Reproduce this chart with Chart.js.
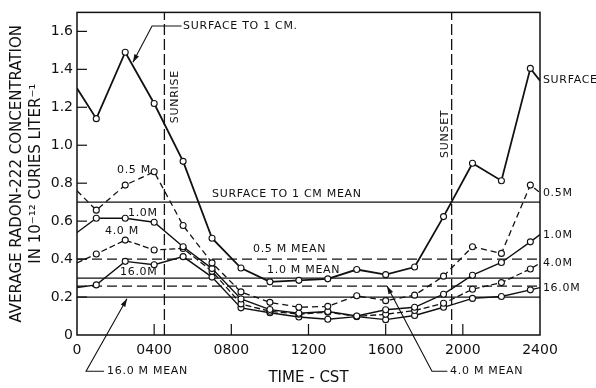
<!DOCTYPE html>
<html><head><meta charset="utf-8">
<script src="https://cdn.jsdelivr.net/npm/chart.js@4/dist/chart.umd.min.js"></script>
<style>html,body{margin:0;padding:0;background:#fff;}#wrap{width:596px;height:388px;}</style>
</head><body><div id="wrap"><canvas id="c" width="596" height="388"></canvas></div>
<script>
// ---- data (time in hours CST) ----
const times = [0, 1, 2.5, 4, 5.5, 7, 8.5, 10, 11.5, 13, 14.5, 16, 17.5, 19, 20.5, 22, 23.5, 24];
const surface = [1.30, 1.14, 1.49, 1.22, 0.915, 0.51, 0.353, 0.28, 0.288, 0.296, 0.345, 0.318, 0.358, 0.624, 0.905, 0.813, 1.405, 1.34];
const depth05 = [0.76, 0.658, 0.79, 0.86, 0.577, 0.38, 0.227, 0.172, 0.146, 0.151, 0.207, 0.181, 0.21, 0.31, 0.465, 0.43, 0.79, 0.75];
const depth10 = [0.54, 0.615, 0.615, 0.594, 0.465, 0.35, 0.19, 0.134, 0.115, 0.124, 0.10, 0.133, 0.146, 0.215, 0.315, 0.382, 0.491, 0.529];
const depth40 = [0.38, 0.427, 0.50, 0.448, 0.456, 0.336, 0.164, 0.125, 0.11, 0.12, 0.098, 0.109, 0.129, 0.167, 0.241, 0.276, 0.348, 0.379];
const depth160 = [0.25, 0.264, 0.388, 0.37, 0.413, 0.305, 0.143, 0.117, 0.095, 0.083, 0.097, 0.081, 0.103, 0.146, 0.193, 0.203, 0.238, 0.25];
const meanNames = ['SURFACE TO 1 CM MEAN', '0.5 M MEAN', '1.0 M MEAN', '4.0 M MEAN', '16.0 M MEAN'];
const meanValues = [0.70, 0.40, 0.30, 0.258, 0.20];
const sunrise = 4.53;
const sunset = 19.42;
const xTicks = [0, 4, 8, 12, 16, 20, 24];
const xTickLabels = ['0', '0400', '0800', '1200', '1600', '2000', '2400'];
const yTicks = [0, 0.2, 0.4, 0.6, 0.8, 1.0, 1.2, 1.4, 1.6];
const yTickLabels = ['0', '0.2', '0.4', '0.6', '0.8', '1.0', '1.2', '1.4', '1.6'];

const ink = '#111';
const pts = arr => times.map((t, i) => ({x: t, y: arr[i]}));
const endless = c => (c.dataIndex === 0 || c.dataIndex === times.length - 1) ? 0 : 3;

function series(label, arr, dash, width) {
  return {label, data: pts(arr), borderColor: ink, borderWidth: width, borderDash: dash,
    pointRadius: endless, pointBackgroundColor: '#fff', pointBorderColor: ink, pointBorderWidth: 1.1,
    tension: 0, fill: false};
}
const meanDash = [[], [10, 5], [], [10, 5], []];
const datasets = [
  series('SURFACE TO 1 CM', surface, [], 1.8),
  series('0.5 M', depth05, [6, 4], 1.3),
  series('1.0 M', depth10, [], 1.4),
  series('4.0 M', depth40, [6, 3], 1.3),
  series('16.0 M', depth160, [], 1.4),
  ...meanValues.map((v, i) => ({label: meanNames[i], data: [{x: 0, y: v}, {x: 24, y: v}],
    borderColor: ink, borderWidth: 1.3, borderDash: meanDash[i], pointRadius: 0})),
  {label: 'SUNRISE', data: [{x: sunrise, y: 0}, {x: sunrise, y: 1.7}], borderColor: ink, borderWidth: 1.3, borderDash: [11, 4], pointRadius: 0},
  {label: 'SUNSET', data: [{x: sunset, y: 0}, {x: sunset, y: 1.7}], borderColor: ink, borderWidth: 1.3, borderDash: [11, 4], pointRadius: 0}
];

const annot = {
  id: 'annot',
  afterDraw(chart) {
    const {ctx, chartArea: a, scales: {x, y}} = chart;
    const X = v => x.getPixelForValue(v), Y = v => y.getPixelForValue(v);
    ctx.save();
    ctx.strokeStyle = ink; ctx.fillStyle = ink;
    ctx.lineWidth = 1.5;
    ctx.strokeRect(a.left, a.top, a.right - a.left, a.bottom - a.top);
    ctx.lineWidth = 1.2;
    yTicks.slice(1).forEach(v => { ctx.beginPath(); ctx.moveTo(a.left, Y(v)); ctx.lineTo(a.left + 10, Y(v)); ctx.stroke(); });
    xTicks.slice(1, -1).forEach(v => { ctx.beginPath(); ctx.moveTo(X(v), a.bottom); ctx.lineTo(X(v), a.bottom - 11); ctx.stroke(); });

    ctx.font = '11px "DejaVu Sans"';
    ctx.textBaseline = 'middle'; ctx.textAlign = 'left';
    ctx.letterSpacing = '0.7px';
    const texts = [
      ['SURFACE TO 1 CM.', 5.5, 1.628], ['SURFACE', 24.15, 1.344], ['0.5 M', 2.07, 0.868],
      ['0.5M', 24.15, 0.749], ['1.0M', 24.15, 0.527], ['4.0M', 24.15, 0.377], ['16.0M', 24.15, 0.248],
      ['1.0M', 2.64, 0.641], ['4.0 M', 1.45, 0.548], ['16.0M', 2.23, 0.331],
      [meanNames[0], 7.0, 0.744], [meanNames[1], 9.12, 0.45], [meanNames[2], 9.85, 0.341],
      [meanNames[4], 1.56, -0.191], [meanNames[3], 19.34, -0.191]
    ];
    texts.forEach(([s, tx, ty]) => ctx.fillText(s, X(tx), Y(ty)));
    ctx.textAlign = 'center';
    [['SUNRISE', 5.08, 1.256], ['SUNSET', 19.08, 1.06]].forEach(([s, tx, ty]) => {
      ctx.save(); ctx.translate(X(tx), Y(ty)); ctx.rotate(-Math.PI / 2); ctx.fillText(s, 0, 0); ctx.restore();
    });

    const leader = p => {
      const q = p.map(([tx, ty]) => [X(tx), Y(ty)]);
      ctx.lineWidth = 1.1;
      ctx.beginPath(); ctx.moveTo(q[0][0], q[0][1]);
      q.slice(1).forEach(r => ctx.lineTo(r[0], r[1])); ctx.stroke();
      const [x1, y1] = q[q.length - 2], [x2, y2] = q[q.length - 1];
      const ang = Math.atan2(y2 - y1, x2 - x1), L = 8, W = 2.6;
      ctx.beginPath(); ctx.moveTo(x2, y2);
      ctx.lineTo(x2 - L * Math.cos(ang) + W * Math.sin(ang), y2 - L * Math.sin(ang) - W * Math.cos(ang));
      ctx.lineTo(x2 - L * Math.cos(ang) - W * Math.sin(ang), y2 - L * Math.sin(ang) + W * Math.cos(ang));
      ctx.closePath(); ctx.fill();
    };
    leader([[5.42, 1.628], [3.89, 1.628], [2.9, 1.437]]);
    leader([[1.4, -0.191], [0.47, -0.191], [2.59, 0.191]]);
    leader([[19.2, -0.191], [18.4, -0.191], [16.07, 0.258]]);
    ctx.restore();
  }
};

new Chart(document.getElementById('c'), {
  type: 'line',
  data: {datasets},
  options: {
    responsive: false, animation: false, devicePixelRatio: 1,
    layout: {padding: {left: 0, top: 6, right: 56, bottom: 0}},
    plugins: {legend: {display: false}, tooltip: {enabled: false}},
    scales: {
      x: {type: 'linear', min: 0, max: 24,
        grid: {display: false, drawTicks: false}, border: {display: false},
        afterBuildTicks: s => { s.ticks = xTicks.map(v => ({value: v})); },
        afterFit: s => { s.height = 53; },
        ticks: {color: ink, padding: 7, maxRotation: 0, autoSkip: false, font: {family: 'DejaVu Sans', size: 14},
          callback: v => xTickLabels[xTicks.indexOf(v)]},
        title: {display: true, text: 'TIME - CST', color: ink, font: {family: 'DejaVu Sans', size: 15}, padding: {top: 0, bottom: 1}}
      },
      y: {type: 'linear', min: 0, max: 1.7,
        grid: {display: false, drawTicks: false}, border: {display: false},
        afterBuildTicks: s => { s.ticks = yTicks.map(v => ({value: v})); },
        afterFit: s => { s.width = 77; },
        ticks: {color: ink, padding: 4, autoSkip: false, font: {family: 'DejaVu Sans', size: 14},
          callback: v => yTickLabels[yTicks.findIndex(t => Math.abs(t - v) < 1e-9)]},
        title: {display: true, text: ['AVERAGE RADON-222 CONCENTRATION', 'IN 10\u207B\u00B9\u00B2 CURIES LITER\u207B\u00B9'],
          color: ink, font: {family: 'DejaVu Sans', size: 15, lineHeight: 1.27}, padding: {top: 8, bottom: 0}}
      }
    }
  },
  plugins: [annot]
});
</script></body></html>
